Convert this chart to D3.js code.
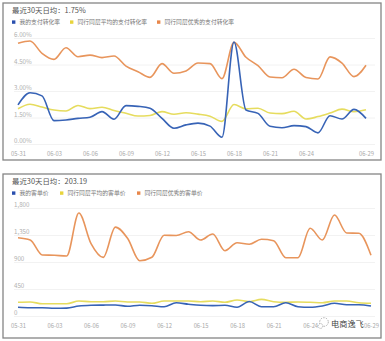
<!DOCTYPE html>
<html><head><meta charset="utf-8">
<script src="https://cdn.jsdelivr.net/npm/d3@7/dist/d3.min.js"></script>
<style>
html,body{margin:0;padding:0;background:#fff;}
svg{display:block;font-family:"Noto Sans CJK SC","Noto Sans",sans-serif;}
</style></head><body>
<svg id="c" width="385" height="341"></svg>
<script>
const dates = ["05-31","06-01","06-02","06-03","06-04","06-05","06-06","06-07","06-08","06-09",
  "06-10","06-11","06-12","06-13","06-14","06-15","06-16","06-17","06-18","06-19",
  "06-20","06-21","06-22","06-23","06-24","06-25","06-26","06-27","06-28","06-29"];
const tickDates = ["05-31","06-03","06-06","06-09","06-12","06-15","06-18","06-21","06-24","06-29"];

// Panel 1: payment conversion rate (%)
const title1 = "最近30天日均：1.75%";
const names1 = ["我的支付转化率","同行同层平均的支付转化率","同行同层优秀的支付转化率"];
const mine1 = [2.24,2.93,2.75,1.35,1.39,1.48,1.54,1.86,1.43,2.20,2.16,2.05,1.48,0.92,1.11,1.21,1.04,0.41,5.80,1.95,1.76,1.03,0.95,1.07,1.01,0.66,1.63,1.44,1.99,1.48];
const avg1 = [2.02,2.28,2.12,1.95,1.90,2.21,2.03,2.11,1.92,1.77,1.61,1.64,1.86,1.71,1.80,1.72,1.60,1.31,2.26,2.02,2.05,1.78,1.75,1.88,1.44,1.58,1.78,2.00,1.86,1.97];
const best1 = [5.73,5.86,5.16,4.82,5.48,4.97,5.06,4.92,5.01,4.44,4.12,3.80,4.58,4.03,4.16,4.61,4.58,3.73,5.78,4.94,4.46,3.82,3.78,4.26,3.79,3.71,4.96,4.61,3.84,4.49];
const yTicks1 = [0,1.5,3,4.5,6];
const yLabels1 = ["0.00%","1.50%","3.00%","4.50%","6.00%"];

// Panel 2: average order value
const title2 = "最近30天日均：203.19";
const names2 = ["我的客单价","同行同层平均的客单价","同行同层优秀的客单价"];
const mine2 = [153,145,145,137,140,175,187,190,192,170,187,180,163,228,205,187,182,187,155,250,163,163,230,163,153,175,220,197,197,175];
const avg2 = [237,242,213,213,213,258,247,247,258,242,242,220,258,258,258,247,258,237,275,247,285,247,237,242,237,230,258,258,230,220];
const best2 = [1313,1275,1025,1020,1008,1725,1215,985,1490,1303,930,987,1353,1350,1413,1275,1375,1097,1230,1205,1287,1263,980,980,1470,1275,1692,1392,1387,1020];
const yTicks2 = [0,450,900,1350,1800];
const yLabels2 = ["0","450","900","1,350","1,800"];

const colors = ["#3763b6","#e6dc5e","#e8955c"];
const legendColors = ["#2a4fae","#e8d43c","#e8874a"];

const svg = d3.select("#c");
const FONT = '"Noto Sans CJK SC","Noto Sans",sans-serif';

function panel(o){
  const g = svg.append("g");
  g.append("rect").attr("x",o.box[0]).attr("y",o.box[1]).attr("width",o.box[2]).attr("height",o.box[3])
    .attr("fill","#fff").attr("stroke","#858585").attr("stroke-width",1.3);
  g.append("text").attr("x",12).attr("y",o.box[1]+10).attr("font-size",7.4).attr("fill","#555").text(o.title);
  o.names.forEach((n,i)=>{
    const lx = o.legendX[i], ly = o.box[1]+17.4;
    g.append("rect").attr("x",lx).attr("y",ly).attr("width",3.4).attr("height",3.4).attr("fill",legendColors[i]);
    g.append("text").attr("x",lx+7.5).attr("y",ly+3.6).attr("font-size",5.8).attr("fill","#777").text(n);
  });
  const x = d3.scalePoint().domain(dates).range(o.xr);
  const y = d3.scaleLinear().domain([0,o.yTicks[o.yTicks.length-1]]).range(o.yr);
  o.yTicks.forEach((t,i)=>{
    g.append("line").attr("x1",14).attr("x2",375).attr("y1",y(t)).attr("y2",y(t)).attr("stroke","#f2f2f2").attr("stroke-width",1);
    g.append("text").attr("x",14).attr("y",y(t)-1.2).attr("font-size",6.2).attr("fill","#b0b0b0").text(o.yLabels[i]);
  });
  const xa = d3.axisBottom(x).tickValues(tickDates).tickSize(0).tickPadding(0);
  const ax = g.append("g").attr("transform",`translate(0,${o.xLabelY})`).call(xa);
  ax.select(".domain").remove();
  ax.selectAll("text").attr("font-size",5.8).attr("fill","#a8a8a8").attr("dy",0).attr("font-family",FONT);
  const line = d3.line().x((d,i)=>x(dates[i])).y(d=>y(d)).curve(d3.curveMonotoneX);
  [o.best,o.avg,o.mine].forEach((s,k)=>{
    const ci = [2,1,0][k];
    g.append("path").datum(s).attr("d",line).attr("fill","none").attr("stroke",colors[ci]).attr("stroke-width",1.6);
  });
}

panel({box:[3,3,378,157], title:title1, names:names1, legendX:[12,70,157],
  xr:[18,366], yr:[144.5,38.5], yTicks:yTicks1, yLabels:yLabels1, xLabelY:156.3,
  mine:mine1, avg:avg1, best:best1});
panel({box:[3,174,378,164], title:title2, names:names2, legendX:[12,60,137],
  xr:[18,371], yr:[316.5,208.5], yTicks:yTicks2, yLabels:yLabels2, xLabelY:328.3,
  mine:mine2, avg:avg2, best:best2});

// watermark
const wm = svg.append("g");
wm.append("circle").attr("cx",324).attr("cy",322).attr("r",4.3).attr("fill","none").attr("stroke","#999").attr("stroke-width",0.8).attr("stroke-dasharray","1.5,1.2");
wm.append("circle").attr("cx",320.5).attr("cy",326).attr("r",2.4).attr("fill","#fff").attr("stroke","#999").attr("stroke-width",0.8).attr("stroke-dasharray","1.2,1");
wm.append("text").attr("x",331).attr("y",327).attr("font-size",8.2).attr("fill","#444")
  .attr("stroke","#fff").attr("stroke-width",1.2).attr("paint-order","stroke").text("电商逸飞");
</script>
</body></html>
